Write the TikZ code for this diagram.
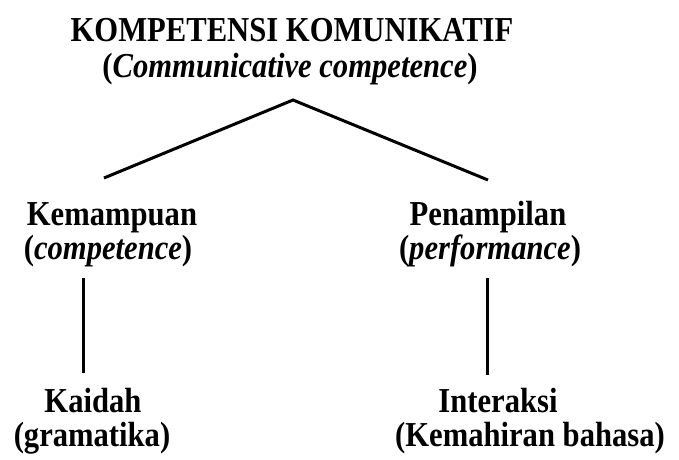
\documentclass[tikz,border=0pt]{standalone}
\usepackage{fontspec}
\usepackage{graphicx}
\setmainfont{Liberation Serif}
\newcommand{\sqz}[1]{\scalebox{0.875}[1]{#1}}
\begin{document}
\begin{tikzpicture}[x=1pt,y=-1pt,
  lbl/.style={anchor=base,inner sep=0pt,font=\fontsize{35}{40}\selectfont\bfseries},
  conn/.style={line width=3pt}]
\useasboundingbox (0,0) rectangle (679,459);
\node[lbl] (t1) at (292,41) {\sqz{KOMPETENSI KOMUNIKATIF}};
\node[lbl] (t2) at (290,77) {\sqz{(\textit{Communicative competence})}};
\node[lbl] (k1) at (112,225) {\sqz{Kemampuan}};
\node[lbl] (k2) at (108,259) {\sqz{(\textit{competence})}};
\node[lbl] (p1) at (488,225) {\sqz{Penampilan}};
\node[lbl] (p2) at (490,259) {\sqz{(\textit{performance})}};
\node[lbl] (g1) at (93,412) {\sqz{Kaidah}};
\node[lbl] (g2) at (92,446) {\sqz{(gramatika)}};
\node[lbl] (i1) at (498,412) {\sqz{Interaksi}};
\node[lbl] (i2) at (530,446) {\sqz{(Kemahiran bahasa)}};
\coordinate (apex) at (293,100);
\coordinate (lend) at (104,178);
\coordinate (rend) at (488,180);
\coordinate (lv1) at (83,278);
\coordinate (lv2) at (83,373);
\coordinate (rv1) at (487,278);
\coordinate (rv2) at (487,375);
\draw[conn] (lend) -- (apex) -- (rend);
\draw[conn] (lv1) -- (lv2);
\draw[conn] (rv1) -- (rv2);
\end{tikzpicture}
\end{document}
